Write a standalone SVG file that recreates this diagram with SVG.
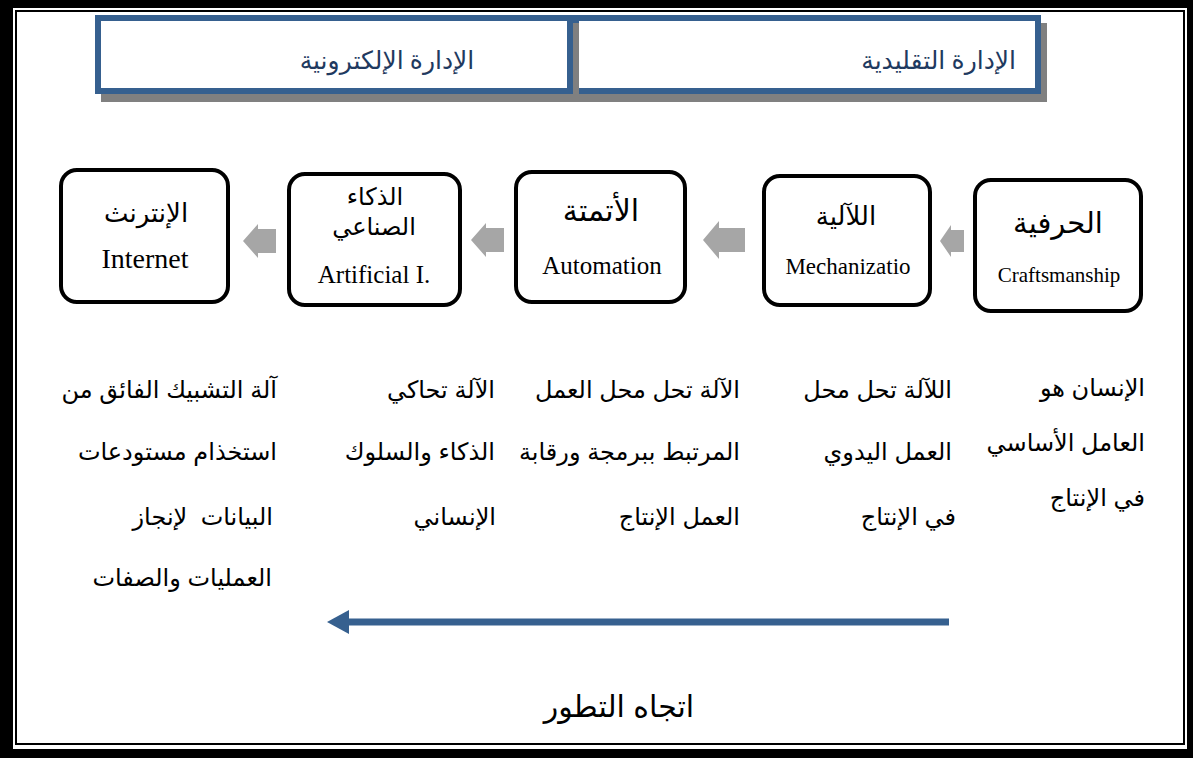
<svg xmlns="http://www.w3.org/2000/svg" width="1193" height="758" viewBox="0 0 1193 758">
<style>
.hdr{fill:#ffffff;stroke:#36608f;stroke-width:6}
.shd{fill:#808080}
.node{fill:#ffffff;stroke:#000000;stroke-width:4}
.ar{font-family:"Liberation Serif","DejaVu Sans",serif;fill:#000}
.en{font-family:"Liberation Serif","Times New Roman",serif;fill:#000}
.hd{font-family:"Liberation Serif","DejaVu Sans",serif;fill:#1f3a60;font-size:25px}
.ds{font-family:"Liberation Sans","DejaVu Sans",sans-serif;fill:#000;font-size:24px;text-anchor:end}
.ga{fill:#a6a6a6}
</style>
<g id="frame">
<rect x="0" y="0" width="1193" height="758" fill="#000"/>
<rect x="13" y="8" width="1174" height="741" fill="#fff"/>
<rect x="16" y="11" width="1168" height="733" fill="none" stroke="#000" stroke-width="2"/>
</g>
<g id="hdr-traditional">
<rect class="shd" x="579" y="23" width="468" height="79"/>
<rect class="hdr" x="576" y="18" width="462" height="73"/>
<text class="hd" x="1016" y="69" text-anchor="end">الإدارة التقليدية</text>
</g>
<g id="hdr-electronic">
<rect class="shd" x="101" y="23" width="478" height="79"/>
<rect class="hdr" x="98" y="18" width="472" height="73"/>
<text class="hd" x="387" y="69" text-anchor="middle">الإدارة الإلكترونية</text>
</g>
<g id="node-internet">
<rect class="node" x="61" y="170" width="167" height="132" rx="16"/>
<text class="ar" x="146" y="222" font-size="26" text-anchor="middle">الإنترنث</text>
<text class="en" x="145" y="268" font-size="28" text-anchor="middle">Internet</text>
</g>
<g id="node-ai">
<rect class="node" x="289" y="174" width="171" height="131" rx="16"/>
<text class="ar" x="375" y="205" font-size="24" text-anchor="middle">الذكاء</text>
<text class="ar" x="374" y="235" font-size="24" text-anchor="middle">الصناعي</text>
<text class="en" x="374" y="283" font-size="25" text-anchor="middle">Artificial I.</text>
</g>
<g id="node-automation">
<rect class="node" x="516" y="172" width="169" height="130" rx="16"/>
<text class="ar" x="601" y="221" font-size="30" text-anchor="middle">الأتمتة</text>
<text class="en" x="602" y="274" font-size="25" text-anchor="middle">Automation</text>
</g>
<g id="node-mechanization">
<rect class="node" x="764" y="176" width="166" height="129" rx="16"/>
<text class="ar" x="846" y="225" font-size="26" text-anchor="middle">اللآلية</text>
<text class="en" x="848" y="274" font-size="23" text-anchor="middle">Mechanizatio</text>
</g>
<g id="node-craftsmanship">
<rect class="node" x="975" y="180" width="166" height="131" rx="16"/>
<text class="ar" x="1058" y="233" font-size="29" text-anchor="middle">الحرفية</text>
<text class="en" x="1059" y="282" font-size="21" text-anchor="middle">Craftsmanship</text>
</g>
<g id="connectors">
<polygon class="ga" points="243,241 258,224 258,229 276,229 276,253 258,253 258,258"/>
<polygon class="ga" points="471,240 486,223 486,228 504,228 504,252 486,252 486,257"/>
<polygon class="ga" points="703,240 719,221 719,228 745,228 745,252 719,252 719,259"/>
<polygon class="ga" points="940,241 951,225 951,230 964,230 964,252 951,252 951,257"/>
<line x1="949" y1="622" x2="345" y2="622" stroke="#36608f" stroke-width="7"/>
<polygon points="327,622 349,610 349,634" fill="#36608f"/>
</g>
<g id="desc-craftsmanship">
<text class="ds" x="1145" y="396">الإنسان هو</text>
<text class="ds" x="1145" y="451">العامل الأساسي</text>
<text class="ds" x="1145" y="506">في الإنتاج</text>
</g>
<g id="desc-mechanization">
<text class="ds" x="952" y="398">اللآلة تحل محل</text>
<text class="ds" x="952" y="460">العمل اليدوي</text>
<text class="ds" x="956" y="525">في الإنتاج</text>
</g>
<g id="desc-automation">
<text class="ds" x="740" y="398">الآلة تحل محل العمل</text>
<text class="ds" x="740" y="460">المرتبط ببرمجة ورقابة</text>
<text class="ds" x="740" y="525">العمل الإنتاج</text>
</g>
<g id="desc-ai">
<text class="ds" x="495" y="398">الآلة تحاكي</text>
<text class="ds" x="495" y="460">الذكاء والسلوك</text>
<text class="ds" x="496" y="525">الإنساني</text>
</g>
<g id="desc-internet">
<text class="ds" x="277" y="398">آلة التشبيك الفائق من</text>
<text class="ds" x="277" y="460">استخذام مستودعات</text>
<text class="ds" x="273" y="525" xml:space="preserve">البيانات  لإنجاز</text>
<text class="ds" x="272" y="586">العمليات والصفات</text>
</g>
<g id="label-direction">
<text x="619" y="717" font-family="Liberation Sans,DejaVu Sans,sans-serif" font-size="30" text-anchor="middle">اتجاه التطور</text>
</g>
</svg>
